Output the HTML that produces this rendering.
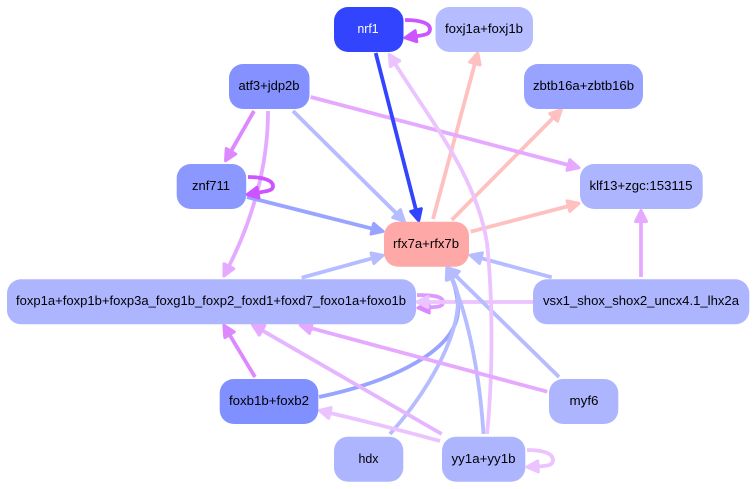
<!DOCTYPE html>
<html>
<head>
<meta charset="utf-8">
<style>
html,body{margin:0;padding:0;background:#fff;}
svg{display:block;}
text{font-family:"Liberation Sans",sans-serif;font-size:13px;fill:#000;text-anchor:middle;}
path,line{fill:none;stroke-width:3.8;}
polygon{stroke-width:3;stroke-linejoin:round;}
</style>
</head>
<body>
<svg xmlns="http://www.w3.org/2000/svg" width="756" height="489" viewBox="0 0 756 489">
<defs>
<marker id="a" markerUnits="userSpaceOnUse" viewBox="0 0 15 15" markerWidth="15" markerHeight="15" refX="4" refY="7.500" orient="auto"><polygon points="2,2 13,7.500 2,13" fill="#cc55ff" stroke="#cc55ff"/></marker>
<marker id="b" markerUnits="userSpaceOnUse" viewBox="0 0 15 15" markerWidth="15" markerHeight="15" refX="4" refY="7.500" orient="auto"><polygon points="2,2 13,7.500 2,13" fill="#dd88ff" stroke="#dd88ff"/></marker>
<marker id="c" markerUnits="userSpaceOnUse" viewBox="0 0 15 15" markerWidth="15" markerHeight="15" refX="4" refY="7.500" orient="auto"><polygon points="2,2 13,7.500 2,13" fill="#e5aaff" stroke="#e5aaff"/></marker>
<marker id="d" markerUnits="userSpaceOnUse" viewBox="0 0 15 15" markerWidth="15" markerHeight="15" refX="4" refY="7.500" orient="auto"><polygon points="2,2 13,7.500 2,13" fill="#b5bcff" stroke="#b5bcff"/></marker>
<marker id="e" markerUnits="userSpaceOnUse" viewBox="0 0 15 15" markerWidth="15" markerHeight="15" refX="4" refY="7.500" orient="auto"><polygon points="2,2 13,7.500 2,13" fill="#ffc0c0" stroke="#ffc0c0"/></marker>
<marker id="f" markerUnits="userSpaceOnUse" viewBox="0 0 15 15" markerWidth="15" markerHeight="15" refX="4" refY="7.500" orient="auto"><polygon points="2,2 13,7.500 2,13" fill="#ebc3ff" stroke="#ebc3ff"/></marker>
<marker id="g" markerUnits="userSpaceOnUse" viewBox="0 0 15 15" markerWidth="15" markerHeight="15" refX="4" refY="7.500" orient="auto"><polygon points="2,2 13,7.500 2,13" fill="#98a4ff" stroke="#98a4ff"/></marker>
<marker id="h" markerUnits="userSpaceOnUse" viewBox="0 0 15 15" markerWidth="15" markerHeight="15" refX="4" refY="7.500" orient="auto"><polygon points="2,2 13,7.500 2,13" fill="#3344ff" stroke="#3344ff"/></marker>
</defs>

<!-- edges -->
<path d="M417,295 C432,295 443,296 443,302 C443,307 438,307 427,307.5" stroke="#dd99ff" stroke-width="4.400" marker-end="url(#b)"/>
<line x1="533" y1="302" x2="426" y2="302" stroke="#ebc3ff" marker-end="url(#f)"/>
<path d="M319,397 C390,382 462,350 458,305 C457,295 455,285 451,276" stroke="#98a4ff" marker-end="url(#g)"/>
<path d="M390,434 C425,395 458,340 458,300 C458,292 455,284 451,276" stroke="#b5bcff" marker-end="url(#d)"/>
<path d="M483.5,434 C480,380 470,320 450.500,276" stroke="#b5bcff" marker-end="url(#d)"/>
<line x1="559" y1="377" x2="454" y2="274" stroke="#b5bcff" marker-end="url(#d)"/>
<line x1="551.7" y1="277.3" x2="479" y2="257.600" stroke="#b5bcff" marker-end="url(#d)"/>
<line x1="641" y1="277" x2="641" y2="219.5" stroke="#e5aaff" stroke-width="4.400" marker-end="url(#c)"/>
<line x1="433" y1="219" x2="475.4" y2="61.600" stroke="#ffc0c0" stroke-width="4.400" marker-end="url(#e)"/>
<line x1="451.700" y1="220" x2="555" y2="116" stroke="#ffc0c0" stroke-width="4.400" marker-end="url(#e)"/>
<line x1="470.7" y1="231.7" x2="570.3" y2="205.6" stroke="#ffc0c0" stroke-width="4.400" marker-end="url(#e)"/>
<line x1="310.7" y1="97" x2="570.3" y2="165.5" stroke="#e5aaff" stroke-width="4.400" marker-end="url(#c)"/>
<line x1="293" y1="111" x2="398" y2="215" stroke="#b5bcff" marker-end="url(#d)"/>
<path d="M487,434 C493,375 493,300 487,243 C476,175 430,120 394,62" stroke="#ebc3ff" marker-end="url(#f)"/>
<line x1="375.7" y1="53" x2="416.500" y2="212" stroke="#3344ff" stroke-width="5" marker-end="url(#h)"/>
<line x1="254" y1="111" x2="230" y2="153" stroke="#dd88ff" stroke-width="4.400" marker-end="url(#b)"/>
<path d="M268,111 C268,170 250,225 228,268" stroke="#e5aaff" marker-end="url(#c)"/>
<line x1="247" y1="197" x2="374.3" y2="229.2" stroke="#98a4ff" stroke-width="4.400" marker-end="url(#g)"/>
<line x1="301.7" y1="277.7" x2="374.4" y2="257.7" stroke="#b5bcff" marker-end="url(#d)"/>
<line x1="255" y1="377" x2="228.500" y2="333" stroke="#dd88ff" stroke-width="4.400" marker-end="url(#b)"/>
<line x1="441.7" y1="434" x2="260.3" y2="329.3" stroke="#e5b5ff" marker-end="url(#c)"/>
<line x1="547.3" y1="391.7" x2="309" y2="327.6" stroke="#e5aaff" stroke-width="4.400" marker-end="url(#c)"/>
<path d="M440,441 C400,430 360,420 328,412.500" stroke="#ebc3ff" marker-end="url(#f)"/>
<path d="M527,450 C542,450 553,453 553,460 C553,466 546,466 536,466.500" stroke="#ebc3ff" marker-end="url(#f)"/>
<path d="M405,20 C420,20 430,23 430,29 C430,35 424,35 414,36.500" stroke="#cc55ff" stroke-width="4.400" marker-end="url(#a)"/>
<path d="M248,177 C262,177 273,180 273,186 C273,191 267,191 256,193" stroke="#cc55ff" stroke-width="4.400" marker-end="url(#a)"/>

<!-- nodes -->
<rect x="334" y="7" width="69.500" height="45" rx="14" fill="#3344ff"/>
<rect x="435.500" y="7" width="97.500" height="45" rx="14" fill="#b5bcff"/>
<rect x="229" y="64" width="80.500" height="45" rx="14" fill="#8491ff"/>
<rect x="524" y="64" width="119" height="45" rx="14" fill="#98a2ff"/>
<rect x="176.700" y="164" width="69.500" height="45" rx="14" fill="#8b98ff"/>
<rect x="580" y="164" width="122.700" height="45" rx="14" fill="#adb5ff"/>
<rect x="384" y="221.700" width="85" height="45" rx="14" fill="#ffa8a8"/>
<rect x="7" y="279.300" width="409" height="45" rx="14" fill="#adb5ff"/>
<rect x="533" y="279.300" width="216.300" height="45" rx="14" fill="#adb5ff"/>
<rect x="219.700" y="379" width="98.600" height="45" rx="14" fill="#8090ff"/>
<rect x="549" y="379" width="69.300" height="45" rx="14" fill="#adb5ff"/>
<rect x="334" y="436.700" width="69.300" height="45" rx="14" fill="#adb5ff"/>
<rect x="442" y="436.700" width="83.300" height="45" rx="14" fill="#adb5ff"/>

<!-- labels -->
<text x="368" y="33" style="fill:#fff" textLength="21" lengthAdjust="spacingAndGlyphs">nrf1</text>
<text x="484" y="33" textLength="78" lengthAdjust="spacingAndGlyphs">foxj1a+foxj1b</text>
<text x="269" y="90" textLength="61" lengthAdjust="spacingAndGlyphs">atf3+jdp2b</text>
<text x="583.500" y="90" textLength="101" lengthAdjust="spacingAndGlyphs">zbtb16a+zbtb16b</text>
<text x="211" y="190" textLength="38" lengthAdjust="spacingAndGlyphs">znf711</text>
<text x="641" y="190" textLength="103" lengthAdjust="spacingAndGlyphs">klf13+zgc:153115</text>
<text x="426" y="248" textLength="66" lengthAdjust="spacingAndGlyphs">rfx7a+rfx7b</text>
<text x="211" y="305" textLength="390" lengthAdjust="spacingAndGlyphs">foxp1a+foxp1b+foxp3a_foxg1b_foxp2_foxd1+foxd7_foxo1a+foxo1b</text>
<text x="641" y="305" textLength="196" lengthAdjust="spacingAndGlyphs">vsx1_shox_shox2_uncx4.1_lhx2a</text>
<text x="269" y="405" textLength="80" lengthAdjust="spacingAndGlyphs">foxb1b+foxb2</text>
<text x="584" y="405" textLength="29" lengthAdjust="spacingAndGlyphs">myf6</text>
<text x="368.500" y="463" textLength="20" lengthAdjust="spacingAndGlyphs">hdx</text>
<text x="483.500" y="463" textLength="64" lengthAdjust="spacingAndGlyphs">yy1a+yy1b</text>
</svg>
</body>
</html>
